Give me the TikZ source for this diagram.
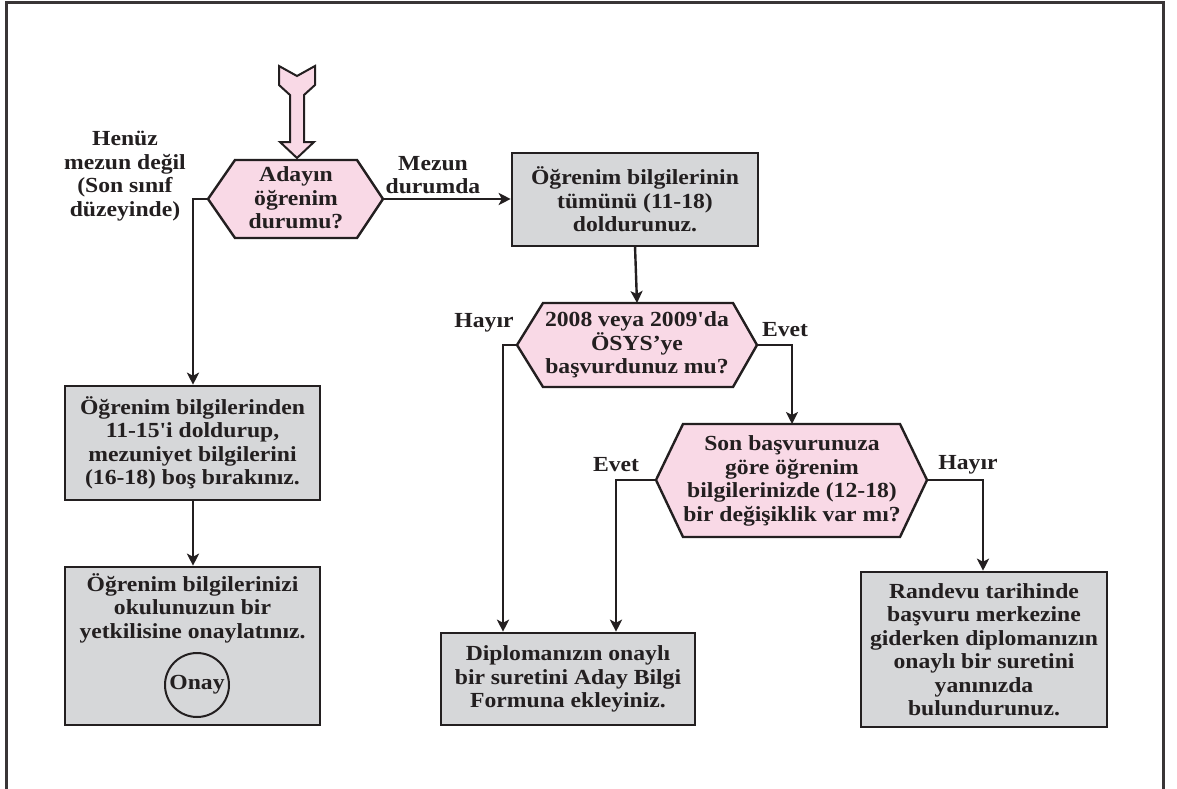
\documentclass[tikz,border=0pt]{standalone}
\usepackage{fontspec}
\setmainfont{Liberation Serif}[FakeStretch=1.1, Ligatures=TeXOff]
\usetikzlibrary{arrows.meta}
\definecolor{pinkfill}{RGB}{249,217,230}
\definecolor{boxfill}{RGB}{214,215,217}
\definecolor{ink}{RGB}{35,31,32}
\begin{document}
\begin{tikzpicture}[x=1pt,y=-1pt,
  txt/.style={font=\fontsize{21.5}{23.5}\selectfont\bfseries, text=ink, align=center, inner sep=0pt},
  box/.style={txt, draw=ink, fill=boxfill, line width=2.6pt},
  hexa/.style={draw=ink, fill=pinkfill, line width=2.4pt, line join=miter},
  conn/.style={draw=ink, line width=2.4pt, -{Stealth[length=12pt,width=12pt,inset=3pt]}},
  frame/.style={draw=ink!90, line width=3pt}
]
\useasboundingbox (0,0) rectangle (1177,789);
% outer frame (open at the bottom)
\draw[frame] (6,789) -- (6,3) -- (1163,3) -- (1163,789);

% start arrow
\draw[hexa, line width=2pt] (279,66) -- (297,76) -- (315,66) -- (315,85) -- (304,95) -- (304,142)
  -- (314,142) -- (297,158) -- (280,142) -- (290,142) -- (290,95) -- (279,85) -- cycle;

% hexagon 1
\coordinate (h1L) at (208,199); \coordinate (h1R) at (383,199);
\draw[hexa] (h1L) -- (235,160) -- (357,160) -- (h1R) -- (357,238) -- (235,238) -- cycle;
\node[txt] (h1) at (296,198) {Adayın\\öğrenim\\durumu?};

% hexagon 2
\coordinate (h2L) at (517,345); \coordinate (h2R) at (757,345); \coordinate (h2T) at (637,303);
\draw[hexa] (h2L) -- (543,303) -- (733,303) -- (h2R) -- (733,387) -- (543,387) -- cycle;
\node[txt] (h2) at (637,345) {2008 veya 2009'da\\ÖSYS’ye\\başvurdunuz mu?};

% hexagon 3
\coordinate (h3L) at (656,480); \coordinate (h3R) at (927,480); \coordinate (h3T) at (792,424);
\draw[hexa] (h3L) -- (683,424) -- (900,424) -- (h3R) -- (900,537) -- (683,537) -- cycle;
\node[txt] (h3) at (792,481) {Son başvurunuza\\göre öğrenim\\bilgilerinizde (12-18)\\bir değişiklik var mı?};

% boxes
\node[box, minimum width=255pt, minimum height=114pt] (b1) at (192.5,443)
  {Öğrenim bilgilerinden\\11-15'i doldurup,\\mezuniyet bilgilerini\\(16-18) boş bırakınız.};
\node[box, minimum width=255pt, minimum height=158pt] (b2) at (192.5,646) {};
\node[txt] (b2t) at (192.5,608) {Öğrenim bilgilerinizi\\okulunuzun bir\\yetkilisine onaylatınız.};
\node[txt, draw=ink, circle, line width=2pt, minimum size=64pt] (onay) at (197,685) {Onay};
\node[box, minimum width=246pt, minimum height=93pt] (bt) at (635,199.5)
  {Öğrenim bilgilerinin\\tümünü (11-18)\\doldurunuz.};
\node[box, minimum width=254pt, minimum height=92pt] (bd) at (568,679)
  {Diplomanızın onaylı\\bir suretini Aday Bilgi\\Formuna ekleyiniz.};
\node[box, minimum width=246pt, minimum height=155pt] (br) at (984,649.5)
  {Randevu tarihinde\\başvuru merkezine\\giderken diplomanızın\\onaylı bir suretini\\yanınızda\\bulundurunuz.};

% labels
\node[txt] (lhenuz) at (125,176) {Henüz\\mezun değil\\(Son sınıf\\düzeyinde)};
\node[txt] (lmezun) at (433,175) {Mezun\\durumda};
\node[txt] (lhayir1) at (484,323) {Hayır};
\node[txt] (levet1) at (785,330) {Evet};
\node[txt] (levet2) at (616,465) {Evet};
\node[txt] (lhayir2) at (968,465) {Hayır};

% connectors
\coordinate (c1) at (193,199);
\draw[conn] (h1L) -- (c1) -- (c1 |- b1.north);
\draw[conn] (h1R) -- (h1R -| bt.west);
\draw[conn] (b1.south -| c1) -- (c1 |- b2.north);
\draw[conn] (635,246) -- (h2T);
\coordinate (c2) at (792,345);
\draw[conn] (h2R) -- (c2) -- (h3T);
\coordinate (c3) at (503,345);
\draw[conn] (h2L) -- (c3) -- (c3 |- bd.north);
\coordinate (c4) at (616,480);
\draw[conn] (h3L) -- (c4) -- (c4 |- bd.north);
\coordinate (c5) at (983,480);
\draw[conn] (h3R) -- (c5) -- (c5 |- br.north);
\end{tikzpicture}
\end{document}
